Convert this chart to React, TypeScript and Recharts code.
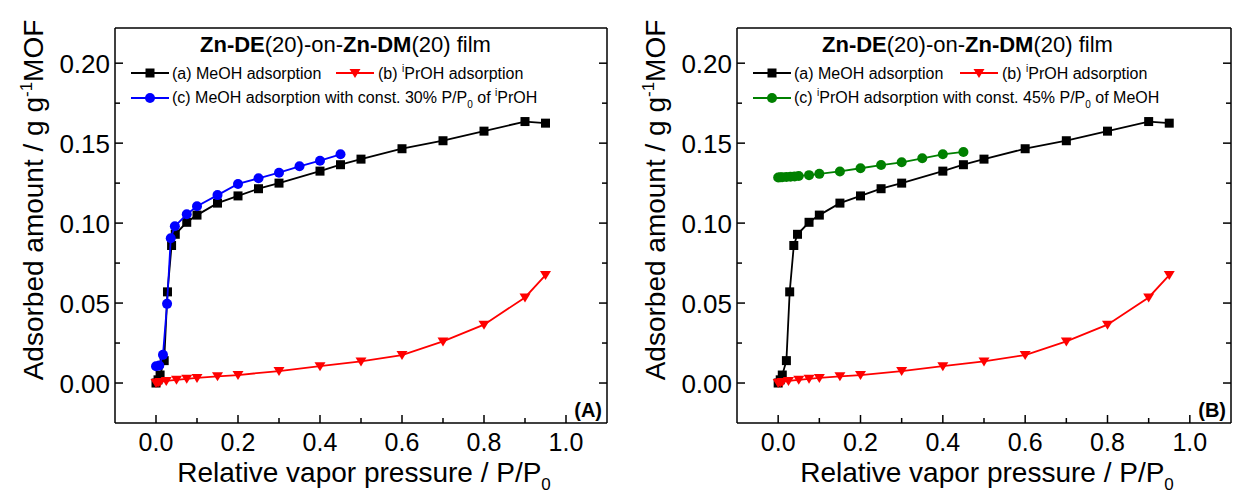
import React from 'react';
import { ScatterChart, Scatter, XAxis, YAxis } from 'recharts';

// relative pressure P/P0 and adsorbed amount (g/g MOF)
const meohP = [0, 0.005, 0.01, 0.02, 0.028, 0.038, 0.047, 0.075, 0.1, 0.15, 0.2, 0.25, 0.3, 0.4, 0.45, 0.5, 0.6, 0.7, 0.8, 0.9, 0.95];
const meohAmount = [0, 0.002, 0.005, 0.014, 0.057, 0.086, 0.093, 0.1005, 0.105, 0.1125, 0.117, 0.1215, 0.125, 0.1325, 0.1365, 0.14, 0.1465, 0.1515, 0.1575, 0.1635, 0.1625];

const iproP = [0, 0.005, 0.01, 0.025, 0.05, 0.075, 0.1, 0.15, 0.2, 0.3, 0.4, 0.5, 0.6, 0.7, 0.8, 0.9, 0.95];
const iproAmount = [0, 0.0003, 0.0006, 0.0013, 0.002, 0.0026, 0.0032, 0.0042, 0.005, 0.0075, 0.0105, 0.0135, 0.0175, 0.026, 0.0365, 0.0535, 0.0675];

// (A) MeOH with constant 30% iPrOH
const mixAP = [0, 0.008, 0.017, 0.027, 0.036, 0.046, 0.075, 0.1, 0.15, 0.2, 0.25, 0.3, 0.35, 0.4, 0.45];
const mixAAmount = [0.0105, 0.011, 0.0176, 0.0495, 0.0905, 0.098, 0.1055, 0.1105, 0.1175, 0.1245, 0.128, 0.1315, 0.1355, 0.139, 0.143];

// (B) iPrOH with constant 45% MeOH
const mixBP = [0, 0.005, 0.01, 0.02, 0.03, 0.04, 0.05, 0.075, 0.1, 0.15, 0.2, 0.25, 0.3, 0.35, 0.4, 0.45];
const mixBAmount = [0.1285, 0.1286, 0.1287, 0.1289, 0.129, 0.1292, 0.1295, 0.13, 0.1308, 0.1323, 0.1343, 0.1363, 0.138, 0.1405, 0.143, 0.1445];

const xTicks = [0, 0.1, 0.2, 0.3, 0.4, 0.5, 0.6, 0.7, 0.8, 0.9, 1.0];
const yTicks = [0, 0.025, 0.05, 0.075, 0.1, 0.125, 0.15, 0.175, 0.2];

const toPoints = (xs: number[], ys: number[]) => xs.map((x, i) => ({ x, y: ys[i] }));

const axisLine = { stroke: '#000', strokeWidth: 1.5 };
const isMajorX = (v: number) => Math.round(v * 10) % 2 === 0;
const isMajorY = (v: number) => Math.round(v * 40) % 2 === 0;

const xBottomTick = (props: any) => {
  const { x, y, payload } = props;
  const major = isMajorX(payload.value);
  return (
    <g>
      <line x1={x} x2={x} y1={y} y2={y - (major ? 8 : 5)} stroke="#000" strokeWidth={1.5} />
      {major && (
        <text x={x} y={y + 28} textAnchor="middle" fontSize={25} fill="#000">
          {payload.value.toFixed(1)}
        </text>
      )}
    </g>
  );
};

const xTopTick = (props: any) => {
  const { x, y, payload } = props;
  return <line x1={x} x2={x} y1={y} y2={y + (isMajorX(payload.value) ? 8 : 5)} stroke="#000" strokeWidth={1.5} />;
};

const yLeftTick = (props: any) => {
  const { x, y, payload } = props;
  const major = isMajorY(payload.value);
  return (
    <g>
      <line x1={x} x2={x + (major ? 8 : 5)} y1={y} y2={y} stroke="#000" strokeWidth={1.5} />
      {major && (
        <text x={x - 5} y={y + 9.5} textAnchor="end" fontSize={26} fill="#000">
          {payload.value.toFixed(2)}
        </text>
      )}
    </g>
  );
};

const yRightTick = (props: any) => {
  const { x, y, payload } = props;
  return <line x1={x} x2={x - (isMajorY(payload.value) ? 8 : 5)} y1={y} y2={y} stroke="#000" strokeWidth={1.5} />;
};

const squareShape = (color: string) => (p: any) => (
  <rect x={p.cx - 4.5} y={p.cy - 4.5} width={9} height={9} fill={color} />
);
const triangleShape = (color: string) => (p: any) => (
  <path d={`M${p.cx - 5.5},${p.cy - 4} L${p.cx + 5.5},${p.cy - 4} L${p.cx},${p.cy + 5} Z`} fill={color} />
);
const circleShape = (color: string) => (p: any) => <circle cx={p.cx} cy={p.cy} r={5} fill={color} />;

const LegendMark = ({ x, y, color, kind }: { x: number; y: number; color: string; kind: string }) => {
  const cx = x + 19;
  return (
    <g>
      <line x1={x} x2={x + 38} y1={y} y2={y} stroke={color} strokeWidth={1.8} />
      {kind === 'square' && <rect x={cx - 4.5} y={y - 4.5} width={9} height={9} fill={color} />}
      {kind === 'triangle' && <path d={`M${cx - 5.5},${y - 4} L${cx + 5.5},${y - 4} L${cx},${y + 5} Z`} fill={color} />}
      {kind === 'circle' && <circle cx={cx} cy={y} r={5} fill={color} />}
    </g>
  );
};

interface PanelProps {
  left: number;
  width: number;
  plotRight: number;
  mix: { x: number; y: number }[];
  mixColor: string;
  redLegendX: number;
  row2: React.ReactNode;
  tag: string;
}

const Panel = ({ left, width, plotRight, mix, mixColor, redLegendX, row2, tag }: PanelProps) => {
  const plotLeft = 115;
  const midX = (plotLeft + plotRight) / 2;
  // axes are 1px thick so recharts still draws them; margins absorb that pixel
  return (
    <div style={{ position: 'absolute', left, top: 0, width, height: 494 }}>
      <ScatterChart width={width} height={494} margin={{ top: 27, right: width - plotRight - 1, bottom: 70, left: plotLeft - 1 }}>
        <XAxis type="number" dataKey="x" domain={[-0.1, 1.1]} ticks={xTicks} interval={0} height={1}
          tickSize={0} tickMargin={0} tickLine={false} axisLine={axisLine} tick={xBottomTick} allowDataOverflow />
        <XAxis xAxisId="top" orientation="top" type="number" domain={[-0.1, 1.1]} ticks={xTicks} interval={0} height={1}
          tickSize={0} tickMargin={0} tickLine={false} axisLine={axisLine} tick={xTopTick} allowDataOverflow />
        <YAxis type="number" dataKey="y" domain={[-0.025, 0.222]} ticks={yTicks} interval={0} width={1}
          tickSize={0} tickMargin={0} tickLine={false} axisLine={axisLine} tick={yLeftTick} allowDataOverflow />
        <YAxis yAxisId="right" orientation="right" type="number" domain={[-0.025, 0.222]} ticks={yTicks} interval={0} width={1}
          tickSize={0} tickMargin={0} tickLine={false} axisLine={axisLine} tick={yRightTick} allowDataOverflow />
        <Scatter data={toPoints(meohP, meohAmount)} line={{ stroke: '#000', strokeWidth: 1.8 }} lineType="joint"
          shape={squareShape('#000')} isAnimationActive={false} />
        <Scatter data={toPoints(iproP, iproAmount)} line={{ stroke: '#ff0000', strokeWidth: 1.8 }} lineType="joint"
          shape={triangleShape('#ff0000')} isAnimationActive={false} />
        <Scatter data={mix} line={{ stroke: mixColor, strokeWidth: 1.8 }} lineType="joint"
          shape={circleShape(mixColor)} isAnimationActive={false} />
      </ScatterChart>
      <svg width={width} height={494} style={{ position: 'absolute', left: 0, top: 0, pointerEvents: 'none' }}>
        <text x={200} y={52} fontSize={22} fill="#000">
          <tspan fontWeight="bold">Zn-DE</tspan>(20)-on-<tspan fontWeight="bold">Zn-DM</tspan>(20) film
        </text>
        <LegendMark x={131} y={73} color="#000" kind="square" />
        <text x={172} y={79} fontSize={16} fill="#000">(a) MeOH adsorption</text>
        <LegendMark x={redLegendX} y={73} color="#ff0000" kind="triangle" />
        <text x={redLegendX + 42} y={79} fontSize={16} fill="#000">
          (b) <tspan fontSize={10} dy={-7}>i</tspan><tspan dy={7}>PrOH adsorption</tspan>
        </text>
        <LegendMark x={131} y={98} color={mixColor} kind="circle" />
        <text x={172} y={103} fontSize={16} fill="#000">{row2}</text>
        <text x={plotRight - 5} y={417} textAnchor="end" fontSize={20} fontWeight="bold" fill="#000">{tag}</text>
        <text x={midX + 3} y={482} textAnchor="middle" fontSize={28} fill="#000">
          Relative vapor pressure / P/P<tspan fontSize={17} dy={8}>0</tspan>
        </text>
        <text transform="translate(43,200) rotate(-90)" textAnchor="middle" fontSize={28} fill="#000">
          Adsorbed amount / g g<tspan fontSize={17} dy={-11}>-1</tspan><tspan dy={11}>MOF</tspan>
        </text>
      </svg>
    </div>
  );
};

export default function App() {
  return (
    <div style={{ position: 'absolute', left: 0, top: 0, width: 1238, height: 494, background: '#fff',
      fontFamily: '"Liberation Sans", Arial, sans-serif' }}>
      <Panel left={0} width={620} plotRight={607} mix={toPoints(mixAP, mixAAmount)} mixColor="#0000ff"
        redLegendX={336} tag="(A)"
        row2={<>(c) MeOH adsorption with const. 30% P/P<tspan fontSize={10} dy={5}>0</tspan><tspan dy={-5}> of </tspan><tspan fontSize={10} dy={-7}>i</tspan><tspan dy={7}>PrOH</tspan></>} />
      <Panel left={622} width={616} plotRight={609} mix={toPoints(mixBP, mixBAmount)} mixColor="#008000"
        redLegendX={338} tag="(B)"
        row2={<>(c) <tspan fontSize={10} dy={-7}>i</tspan><tspan dy={7}>PrOH adsorption with const. 45% P/P</tspan><tspan fontSize={10} dy={5}>0</tspan><tspan dy={-5}> of MeOH</tspan></>} />
    </div>
  );
}
